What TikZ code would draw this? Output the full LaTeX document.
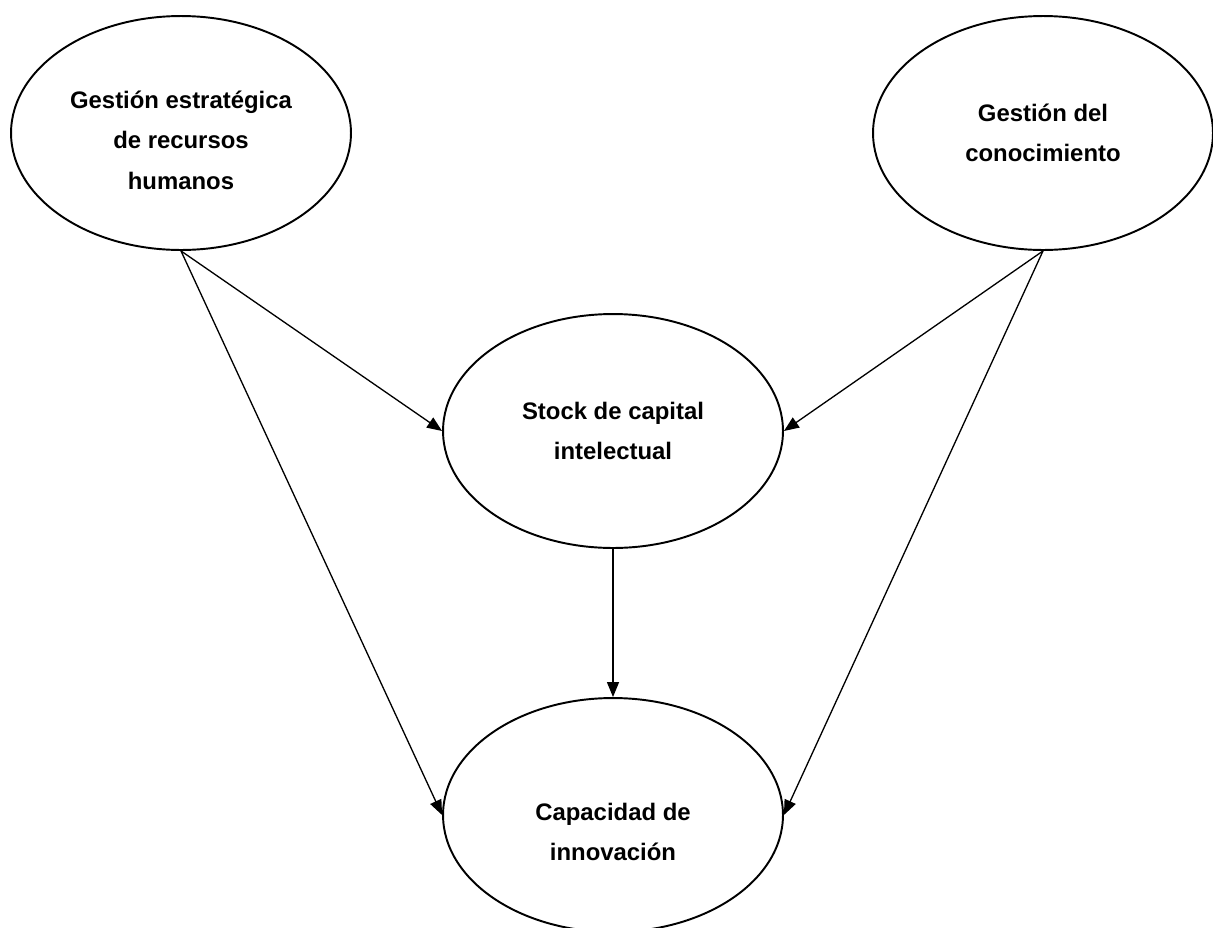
\documentclass[tikz,border=0pt]{standalone}
\usepackage{fontspec}
\setmainfont{Liberation Sans}
\usetikzlibrary{shapes.geometric,arrows.meta}

\begin{document}
\begin{tikzpicture}[x=0.02cm,y=-0.02cm]
		\tikzstyle{every node}+=[inner sep=0pt]
		\tikzstyle{factor}=[draw=black, line width=1.1pt, ellipse, minimum width=6.8cm, minimum height=4.68cm]
		\tikzstyle{caption}=[align=center, font=\fontsize{13.6}{23}\selectfont\bfseries]
		\tikzstyle{link}=[black, line width=0.75pt, -{Triangle[length=0.3cm,width=0.24cm]}]
		\useasboundingbox (0,0) rectangle (1213,927);
		\node [factor, label={[caption, yshift=-0.14cm]center:{Gestión estratégica\\de recursos\\humanos}}] (grh) at (181,133) {};
		\node [factor, label={[caption]center:{Gestión del\\conocimiento}}] (gc) at (1043,133) {};
		\node [factor, label={[caption]center:{Stock de capital\\intelectual}}] (stock) at (613,431) {};
		\node [factor, label={[caption, yshift=-0.34cm]center:{Capacidad de\\innovación}}] (innov) at (613,815) {};
		\draw [link] (grh.south) -- (stock.west);
		\draw [link] (grh.south) -- (innov.west);
		\draw [link] (gc.south) -- (stock.east);
		\draw [link] (gc.south) -- (innov.east);
		\draw [link] (stock.south) -- (innov.north);
		\end{tikzpicture}
\end{document}
